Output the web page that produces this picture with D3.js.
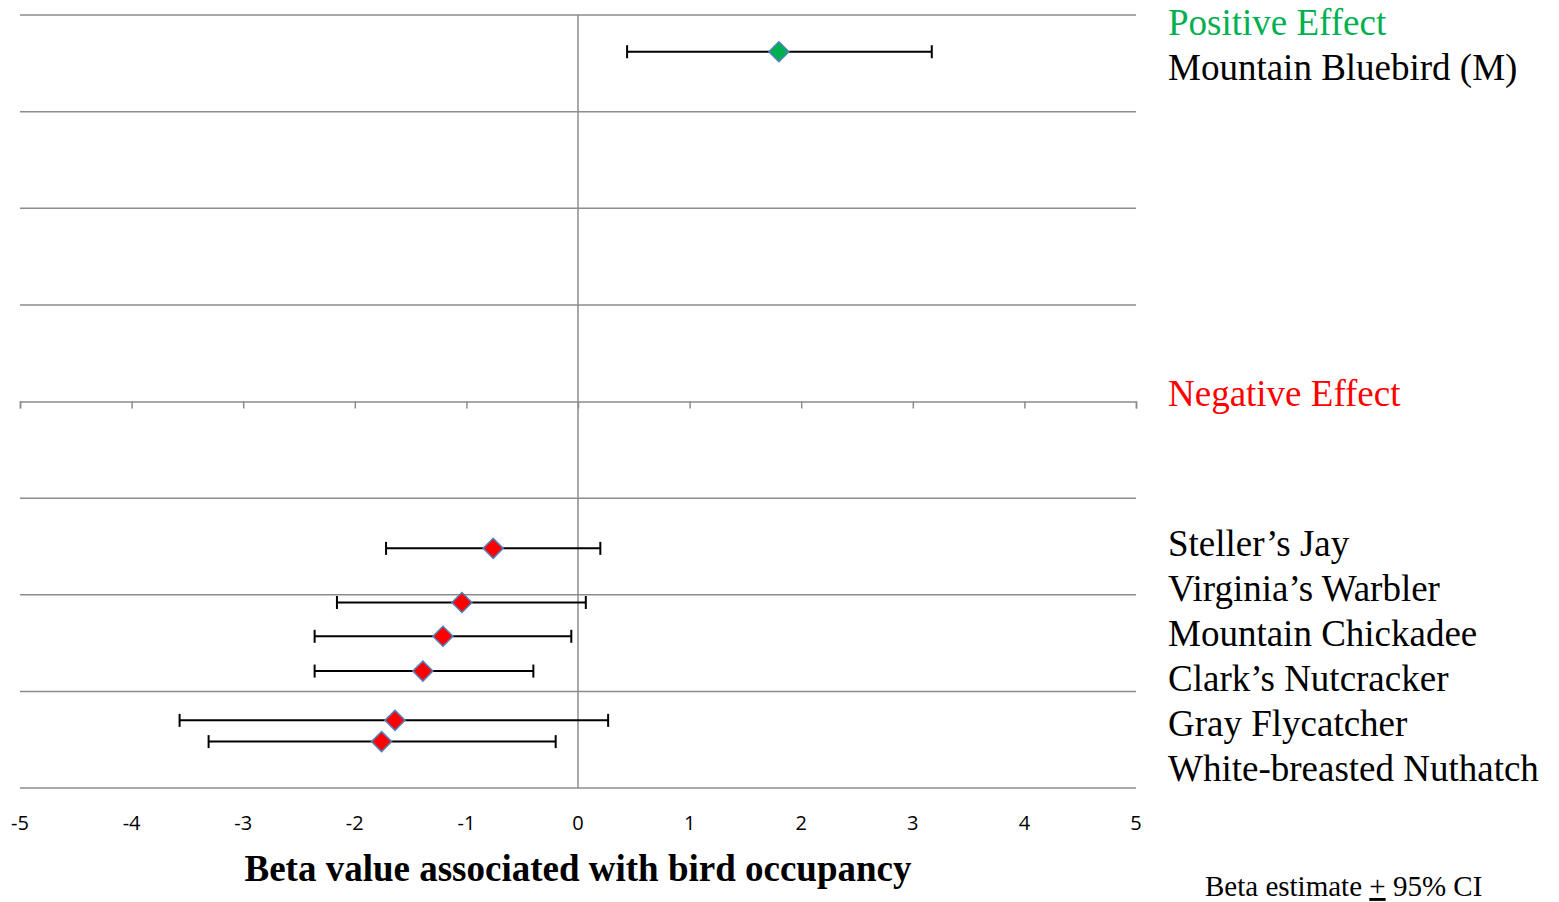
<!DOCTYPE html>
<html>
<head>
<meta charset="utf-8">
<script src="https://cdn.jsdelivr.net/npm/d3@7"></script>
<style>
  html, body { margin: 0; padding: 0; background: #fff; }
  svg { display: block; }
</style>
</head>
<body>
<svg id="chart" width="1559" height="902"></svg>
<script>
// ---- Data ----
const species = ["Mountain Bluebird (M)", "Steller\u2019s Jay", "Virginia\u2019s Warbler", "Mountain Chickadee", "Clark\u2019s Nutcracker", "Gray Flycatcher", "White-breasted Nuthatch"];
const betaValues = [1.80, -0.76, -1.04, -1.21, -1.39, -1.64, -1.76];
const lowerCI   = [0.44, -1.72, -2.16, -2.36, -2.36, -3.57, -3.31];
const upperCI   = [3.17, 0.20, 0.07, -0.06, -0.40, 0.27, -0.20];
const yValues   = [7.62, 2.48, 1.92, 1.57, 1.21, 0.70, 0.48];
const effect    = ["positive", "negative", "negative", "negative", "negative", "negative", "negative"];
const xTicks = [-5, -4, -3, -2, -1, 0, 1, 2, 3, 4, 5];
const yGrid = [0, 1, 2, 3, 4, 5, 6, 7, 8];
const xAxisTitle = "Beta value associated with bird occupancy";

const svg = d3.select("#chart");
const x = d3.scaleLinear().domain([-5, 5]).range([20, 1136]);
const y = d3.scaleLinear().domain([0, 8]).range([788, 15]);
const gridColor = "#8c8c8c";

// horizontal gridlines
svg.append("g").selectAll("line").data(yGrid.filter(d => d !== 4)).join("line")
  .attr("x1", x(-5)).attr("x2", x(5))
  .attr("y1", d => y(d)).attr("y2", d => y(d))
  .attr("stroke", gridColor).attr("stroke-width", 1.5);

// vertical line at 0
svg.append("line")
  .attr("x1", x(0)).attr("x2", x(0)).attr("y1", y(8)).attr("y2", y(0))
  .attr("stroke", gridColor).attr("stroke-width", 1.5);

// x axis crossing at y = 4, with ticks (labels shown at bottom)
const axisG = svg.append("g").attr("transform", `translate(0,${y(4)})`)
  .call(d3.axisBottom(x).tickValues(xTicks).tickSize(7).tickSizeOuter(7).tickFormat(""));
axisG.select(".domain").attr("stroke", gridColor).attr("stroke-width", 1.5);
axisG.selectAll(".tick line").attr("stroke", gridColor).attr("stroke-width", 1.5);

// tick labels at bottom
svg.append("g").selectAll("text").data(xTicks).join("text")
  .attr("x", d => x(d)).attr("y", 830)
  .attr("text-anchor", "middle")
  .attr("font-family", "'Open Sans', 'Liberation Sans', sans-serif")
  .attr("font-size", 20).attr("fill", "#000")
  .text(d => d);

// axis title
svg.append("text")
  .attr("x", x(0)).attr("y", 881)
  .attr("text-anchor", "middle")
  .attr("font-family", "'Liberation Serif', 'Times New Roman', serif")
  .attr("font-weight", "bold").attr("font-size", 37)
  .text(xAxisTitle);

// error bars
const idx = d3.range(species.length);
const eb = svg.append("g").attr("stroke", "#000").attr("stroke-width", 2);
eb.selectAll("line.bar").data(idx).join("line").attr("class", "bar")
  .attr("x1", i => x(lowerCI[i])).attr("x2", i => x(upperCI[i]))
  .attr("y1", i => y(yValues[i])).attr("y2", i => y(yValues[i]));
eb.selectAll("line.capL").data(idx).join("line").attr("class", "capL")
  .attr("x1", i => x(lowerCI[i])).attr("x2", i => x(lowerCI[i]))
  .attr("y1", i => y(yValues[i]) - 6.5).attr("y2", i => y(yValues[i]) + 6.5);
eb.selectAll("line.capR").data(idx).join("line").attr("class", "capR")
  .attr("x1", i => x(upperCI[i])).attr("x2", i => x(upperCI[i]))
  .attr("y1", i => y(yValues[i]) - 6.5).attr("y2", i => y(yValues[i]) + 6.5);

// diamond markers
const diamond = d3.symbol().type(d3.symbolSquare).size(200);
svg.append("g").selectAll("path").data(idx).join("path")
  .attr("d", diamond)
  .attr("transform", i => `translate(${x(betaValues[i])},${y(yValues[i])}) rotate(45)`)
  .attr("fill", i => effect[i] === "positive" ? "#00B050" : "#FF0000")
  .attr("stroke", "#4F81BD").attr("stroke-width", 1.5);

// right side labels
const serif = "'Liberation Serif', 'Times New Roman', serif";
const labelX = 1168;
const lab = svg.append("g").attr("font-family", serif).attr("font-size", 37);
lab.append("text").attr("x", labelX).attr("y", 35).attr("fill", "#00B050").text("Positive Effect");
lab.append("text").attr("x", labelX).attr("y", 80).attr("fill", "#000").text(species[0]);
lab.append("text").attr("x", labelX).attr("y", 406).attr("fill", "#FF0000").text("Negative Effect");
lab.selectAll("text.neg").data(species.slice(1)).join("text").attr("class", "neg")
  .attr("x", labelX).attr("y", (d, i) => 556 + i * 45)
  .attr("fill", "#000").text(d => d);

// note
const note = svg.append("text").attr("x", 1205).attr("y", 896)
  .attr("font-family", serif).attr("font-size", 29).attr("fill", "#000");
note.append("tspan").text("Beta estimate ");
note.append("tspan").attr("text-decoration", "underline").text("+");
note.append("tspan").text(" 95% CI");
</script>
</body>
</html>
